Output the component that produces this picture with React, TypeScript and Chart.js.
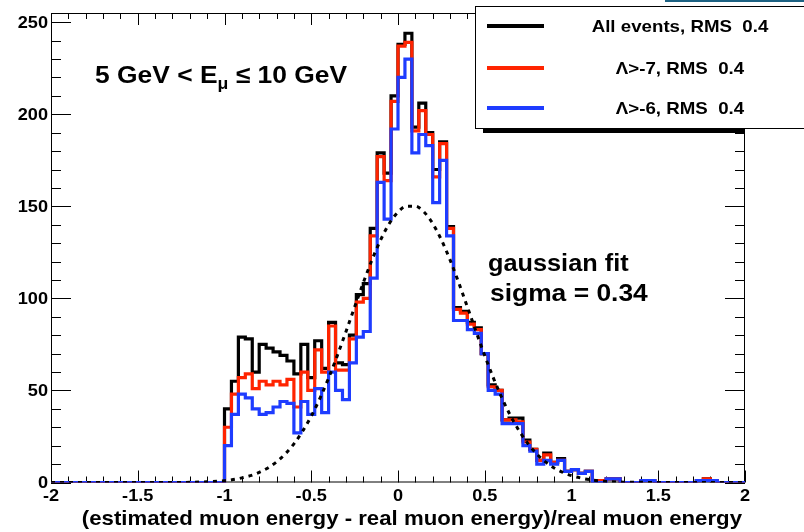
import React, { useEffect, useRef } from 'react';
import { Chart, registerables } from 'chart.js';

Chart.register(...registerables);

// ---------------- data ----------------
const X_MIN = -2;
const X_MAX = 2;
const BIN_WIDTH = 0.04;

// counts per bin, 100 bins from -2 to 2
const allEvents = [
  0, 0, 0, 0, 0, 0, 0, 0, 0, 0, 0, 0, 0, 0, 0, 0, 0, 0, 0, 0, 0, 0, 0, 0, 0,
  40, 55, 79, 78, 60, 75, 73, 71, 69, 66, 59, 75, 57, 77, 62,
  87, 65, 64, 80, 102, 108, 138, 179, 168, 210,
  238, 244, 193, 206, 190, 170, 185, 139, 95, 93,
  87, 84, 70, 53, 50, 34, 35, 35, 23, 18,
  12, 16, 11, 13, 6, 7, 5, 6, 1, 1,
  2, 2, 0, 0, 0, 1, 1, 0, 0, 0,
  0, 0, 0, 1, 2, 1, 0, 0, 0, 0,
];
const lambdaGt7 = [
  0, 0, 0, 0, 0, 0, 0, 0, 0, 0, 0, 0, 0, 0, 0, 0, 0, 0, 0, 0, 0, 0, 0, 0, 0,
  30, 48, 57, 59, 51, 55, 53, 55, 53, 56, 41, 60, 50, 72, 60,
  85, 61, 61, 78, 98, 100, 134, 177, 164, 207,
  237, 239, 191, 202, 189, 166, 184, 138, 94, 92,
  86, 83, 70, 52, 50, 34, 34, 33, 22, 18,
  12, 15, 11, 12, 6, 7, 5, 6, 1, 1,
  2, 2, 0, 0, 0, 1, 1, 0, 0, 0,
  0, 0, 0, 1, 2, 1, 0, 0, 0, 0,
];
const lambdaGt6 = [
  0, 0, 0, 0, 0, 0, 0, 0, 0, 0, 0, 0, 0, 0, 0, 0, 0, 0, 0, 0, 0, 0, 0, 0, 0,
  20, 37, 48, 46, 40, 37, 38, 41, 44, 43, 27, 44, 37, 51, 38,
  60, 50, 45, 65, 79, 82, 111, 163, 143, 192,
  220, 230, 179, 189, 183, 152, 175, 134, 88, 88,
  83, 81, 70, 50, 48, 32, 32, 32, 20, 17,
  10, 12, 10, 12, 6, 7, 5, 6, 0, 0,
  2, 2, 0, 0, 0, 1, 1, 0, 0, 0,
  0, 0, 0, 1, 1, 1, 0, 0, 0, 0,
];

// gaussian fit curve
const gaussX = [
  -2, -1.5, -1.3, -1.2, -1.1,
  -1.0, -0.95, -0.9, -0.85, -0.8, -0.75, -0.7, -0.65, -0.6, -0.55,
  -0.5, -0.45, -0.4, -0.35, -0.3, -0.25, -0.2, -0.15, -0.1, -0.05,
  0, 0.05, 0.1, 0.15, 0.2, 0.25, 0.3, 0.35, 0.4, 0.45,
  0.5, 0.55, 0.6, 0.65, 0.7, 0.75, 0.8, 0.85, 0.9, 0.95,
  1.0, 1.05, 1.1, 1.15, 1.2, 1.3, 1.4, 1.5, 2,
];
const gaussY = [
  0, 0, 0, 0.1, 0.4,
  1.0, 1.6, 2.5, 3.7, 5.5, 7.9, 11.2, 15.5, 21.0, 27.8,
  36.0, 45.7, 56.7, 68.9, 81.9, 95.3, 108.5, 120.9, 131.8, 140.7,
  146.9, 150.1, 150.1, 146.9, 140.7, 131.8, 120.9, 108.5, 95.3, 81.9,
  68.9, 56.7, 45.7, 36.0, 27.8, 21.0, 15.5, 11.2, 7.9, 5.5,
  3.7, 2.5, 1.6, 1.0, 0.6, 0.2, 0.1, 0, 0,
];

const xTickValues = [-2, -1.5, -1, -0.5, 0, 0.5, 1, 1.5, 2];
const xTickLabels = ['-2', '-1.5', '-1', '-0.5', '0', '0.5', '1', '1.5', '2'];
const yTickValues = [0, 50, 100, 150, 200, 250];
const yTickLabels = ['0', '50', '100', '150', '200', '250'];

const seriesNames = ['All events, RMS  0.4', 'Λ>-7, RMS  0.4', 'Λ>-6, RMS  0.4'];
const seriesColors = ['#000000', '#ff2400', '#1e3cff'];

const xTitle = '(estimated muon energy - real muon energy)/real muon energy';
const fitLine1 = 'gaussian fit';
const fitLine2 = 'sigma = 0.34';

// ---------------- helpers ----------------
function histPoints(values: number[]) {
  const pts = values.map((v, i) => ({ x: +(X_MIN + i * BIN_WIDTH).toFixed(4), y: v }));
  pts.push({ x: X_MAX, y: values[values.length - 1] });
  return pts;
}

const FONT = '"Liberation Sans", Arial, Helvetica, sans-serif';
const SX = 1.1;

function txt(
  ctx: CanvasRenderingContext2D,
  s: string,
  x: number,
  y: number,
  size: number,
  align: CanvasTextAlign = 'left',
  baseline: CanvasTextBaseline = 'alphabetic',
  weight = 'bold',
) {
  ctx.save();
  ctx.font = `${weight} ${size}px ${FONT}`;
  ctx.textAlign = align;
  ctx.textBaseline = baseline;
  ctx.fillStyle = '#000';
  ctx.translate(x, y);
  ctx.scale(SX, 1);
  ctx.fillText(s, 0, 0);
  const w = ctx.measureText(s).width * SX;
  ctx.restore();
  return w;
}

const rootPlugin = {
  id: 'rootStyle',
  beforeDatasetsDraw(chart: any) {
    const ctx: CanvasRenderingContext2D = chart.ctx;
    const { left, right, top, bottom } = chart.chartArea;
    const xs = chart.scales.x;
    const ys = chart.scales.y;
    ctx.save();
    ctx.strokeStyle = '#000';
    ctx.lineWidth = 1;
    // frame
    ctx.strokeRect(left + 0.5, top + 0.5, right - left - 1, bottom - top - 1);
    // x ticks (bottom + top)
    for (let k = 0; k <= 40; k++) {
      const v = X_MIN + k * 0.1;
      const px = Math.round(xs.getPixelForValue(v)) + 0.5;
      const major = k % 5 === 0;
      const len = major ? 12 : 6;
      ctx.beginPath();
      ctx.moveTo(px, bottom);
      ctx.lineTo(px, bottom - len);
      ctx.moveTo(px, top);
      ctx.lineTo(px, top + len);
      ctx.stroke();
    }
    // y ticks (left + right)
    for (let v = 0; v <= 250; v += 10) {
      const py = Math.round(ys.getPixelForValue(v)) + 0.5;
      const major = v % 50 === 0;
      const len = major ? 20 : 10;
      ctx.beginPath();
      ctx.moveTo(left, py);
      ctx.lineTo(left + len, py);
      ctx.moveTo(right, py);
      ctx.lineTo(right - len, py);
      ctx.stroke();
    }
    ctx.restore();
  },
  afterDraw(chart: any) {
    const ctx: CanvasRenderingContext2D = chart.ctx;
    const { left, bottom } = chart.chartArea;
    const xs = chart.scales.x;
    const ys = chart.scales.y;
    // tick labels
    xTickValues.forEach((v, i) => {
      txt(ctx, xTickLabels[i], xs.getPixelForValue(v), bottom + 18, 16.5, 'center');
    });
    yTickValues.forEach((v, i) => {
      txt(ctx, yTickLabels[i], left - 3, ys.getPixelForValue(v) + 1, 16.5, 'right', 'middle');
    });
    // axis title
    txt(ctx, xTitle, 742, 525, 20.2, 'right');

    // energy range label
    let x = 95;
    const by = 83;
    x += txt(ctx, '5 GeV < E', x, by, 24);
    x += txt(ctx, 'μ', x, by + 6, 16);
    x += txt(ctx, ' ≤ 10 GeV', x, by, 24);

    // fit text
    txt(ctx, fitLine1, 488, 271, 23);
    txt(ctx, fitLine2, 490, 301, 24);

    // legend
    ctx.save();
    ctx.fillStyle = '#000';
    ctx.fillRect(483, 129, 745 - 483, 4);
    ctx.fillStyle = '#fff';
    ctx.fillRect(475, 6, 340, 122);
    ctx.strokeStyle = '#000';
    ctx.lineWidth = 1;
    ctx.strokeRect(475.5, 6.5, 340, 122);
    const rows = [26, 68, 108];
    rows.forEach((ry, i) => {
      ctx.strokeStyle = seriesColors[i];
      ctx.lineWidth = 4;
      ctx.beginPath();
      ctx.moveTo(487, ry);
      ctx.lineTo(544, ry);
      ctx.stroke();
      txt(ctx, seriesNames[i], 680, ry + 1, 17, 'center', 'middle');
    });
    // teal strip at the top right
    ctx.fillStyle = '#1d6283';
    ctx.fillRect(665, 0, 139, 2);
    ctx.restore();
  },
};

export default function App() {
  const ref = useRef<HTMLCanvasElement | null>(null);
  useEffect(() => {
    if (!ref.current) return;
    const histStyle = { borderWidth: 3.2, stepped: 'before', pointRadius: 0, fill: false };
    const chart = new Chart(ref.current, {
      type: 'line',
      data: {
        datasets: [
          {
            label: 'gaussian fit',
            data: gaussX.map((xv, i) => ({ x: xv, y: gaussY[i] })),
            borderColor: '#000',
            borderWidth: 3,
            borderDash: [4, 5],
            cubicInterpolationMode: 'monotone',
            pointRadius: 0,
            fill: false,
            order: 0,
          },
          { label: seriesNames[2], data: histPoints(lambdaGt6), borderColor: seriesColors[2], ...histStyle, order: 1 },
          { label: seriesNames[1], data: histPoints(lambdaGt7), borderColor: seriesColors[1], ...histStyle, order: 2 },
          { label: seriesNames[0], data: histPoints(allEvents), borderColor: seriesColors[0], ...histStyle, order: 3 },
        ],
      } as any,
      options: {
        responsive: false,
        animation: false,
        layout: { padding: { left: 51, right: 59, top: 13, bottom: 49.5 } },
        scales: {
          x: { type: 'linear', min: X_MIN, max: X_MAX, display: false },
          y: { type: 'linear', min: 0, max: 255, display: false },
        },
        plugins: { legend: { display: false }, tooltip: { enabled: false } },
        elements: { point: { radius: 0 } },
      } as any,
      plugins: [rootPlugin],
    });
    return () => chart.destroy();
  }, []);
  return (
    <div style={{ position: 'absolute', left: 0, top: 0, width: 804, height: 532, background: '#fff' }}>
      <canvas ref={ref} width={804} height={532} style={{ display: 'block' }} />
    </div>
  );
}
